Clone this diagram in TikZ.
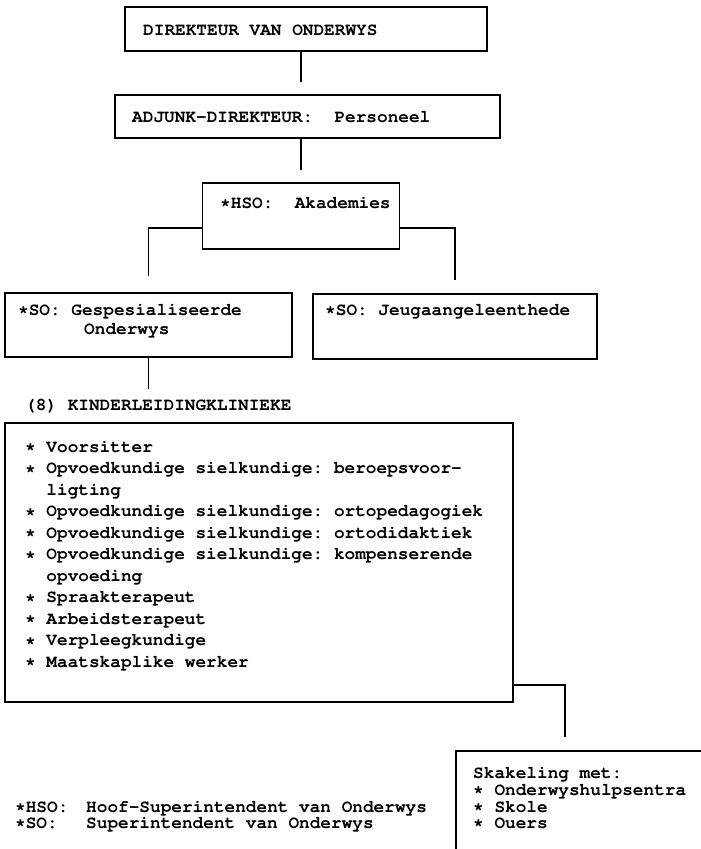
\documentclass[tikz,border=0pt]{standalone}
\usepackage[T1,TU]{fontenc}
\usetikzlibrary{calc}
\tikzset{
  boxn/.style={draw, line width=1.1pt, inner sep=0pt, outer sep=0pt},
  txt/.style={anchor=base west, inner sep=0pt, font=\fontencoding{T1}\fontfamily{pcr}\fontseries{b}\fontsize{17.75}{21.5}\selectfont\frenchspacing},
  conn/.style={line width=1.1pt}
}
\begin{document}
\begin{tikzpicture}[x=1pt,y=-1pt]
\useasboundingbox[fill=white] (0,0) rectangle (701,849);
% boxes
\node[boxn, minimum width=362pt, minimum height=44pt] (b1) at (306,29) {};
\node[boxn, minimum width=385pt, minimum height=43pt] (b2) at (307.5,116.5) {};
\node[boxn, minimum width=197pt, minimum height=66pt] (b3) at (301,216) {};
\node[boxn, minimum width=287pt, minimum height=64pt] (b4) at (148.5,325) {};
\node[boxn, minimum width=284pt, minimum height=65pt] (b5) at (455,326.5) {};
\node[boxn, minimum width=508pt, minimum height=279pt] (big) at (259,562.5) {};
% texts
\node[txt] (t1) at (143,35) {DIREKTEUR VAN ONDERWYS};
\node[txt] (t2) at (132,122) {ADJUNK-DIREKTEUR:\ \ Personeel};
\node[txt] (t3) at (220,208) {*HSO:\ \ Akademies};
\node[txt] (t4a) at (18,315) {*SO: Gespesialiseerde};
\node[txt] (t4b) at (84,334) {Onderwys};
\node[txt] (t5) at (325,315) {*SO: Jeugaangeleenthede};
\node[txt] (kl) at (25,410) {(8) KINDERLEIDINGKLINIEKE};
\node[txt] (i1) at (25,452) {* Voorsitter};
\node[txt] (i2) at (25,473.5) {* Opvoedkundige sielkundige: beroepsvoor-};
\node[txt] (i3) at (25,495) {\ \ ligting};
\node[txt] (i4) at (25,516.5) {* Opvoedkundige sielkundige: ortopedagogiek};
\node[txt] (i5) at (25,538) {* Opvoedkundige sielkundige: ortodidaktiek};
\node[txt] (i6) at (25,559.5) {* Opvoedkundige sielkundige: kompenserende};
\node[txt] (i7) at (25,581) {\ \ opvoeding};
\node[txt] (i8) at (25,602.5) {* Spraakterapeut};
\node[txt] (i9) at (25,624) {* Arbeidsterapeut};
\node[txt] (i10) at (25,645.5) {* Verpleegkundige};
\node[txt] (i11) at (25,667) {* Maatskaplike werker};
\node[txt] (s1) at (473,778) {Skakeling met:};
\node[txt] (s2) at (473,795) {* Onderwyshulpsentra};
\node[txt] (s3) at (473,812) {* Skole};
\node[txt] (s4) at (473,828) {* Ouers};
\node[txt] (f1) at (15,812) {*HSO:};
\node[txt] (f1b) at (86,812) {Hoof-Superintendent van Onderwys};
\node[txt] (f2) at (15,828) {*SO:};
\node[txt] (f2b) at (86,828) {Superintendent van Onderwys};
% open Skakeling box
\coordinate (skl) at (456,849);
\coordinate (sktl) at (456,751);
\coordinate (sktr) at (701,751);
\coordinate (sk) at (565,751);
\draw[conn] (skl) -- (sktl) -- (sktr);
% connectors
\coordinate (br) at (0,228);
\coordinate (c1) at (0,685);
\draw[conn, shorten >=13pt] (b1.south -| b3.north) -- (b2.north -| b3.north);
\draw[conn, shorten >=13pt] (b2.south -| b3.north) -- (b3.north);
\draw[conn, shorten >=17pt] (b3.west |- br) -| (b4.north);
\draw[conn, shorten >=14pt] (b3.east |- br) -| (b5.north);
\draw[conn, shorten >=10pt] (b4.south) -- (b4.south |- kl.north);
\draw[conn, shorten >=14pt] (big.east |- c1) -| (sk);
\end{tikzpicture}
\end{document}
